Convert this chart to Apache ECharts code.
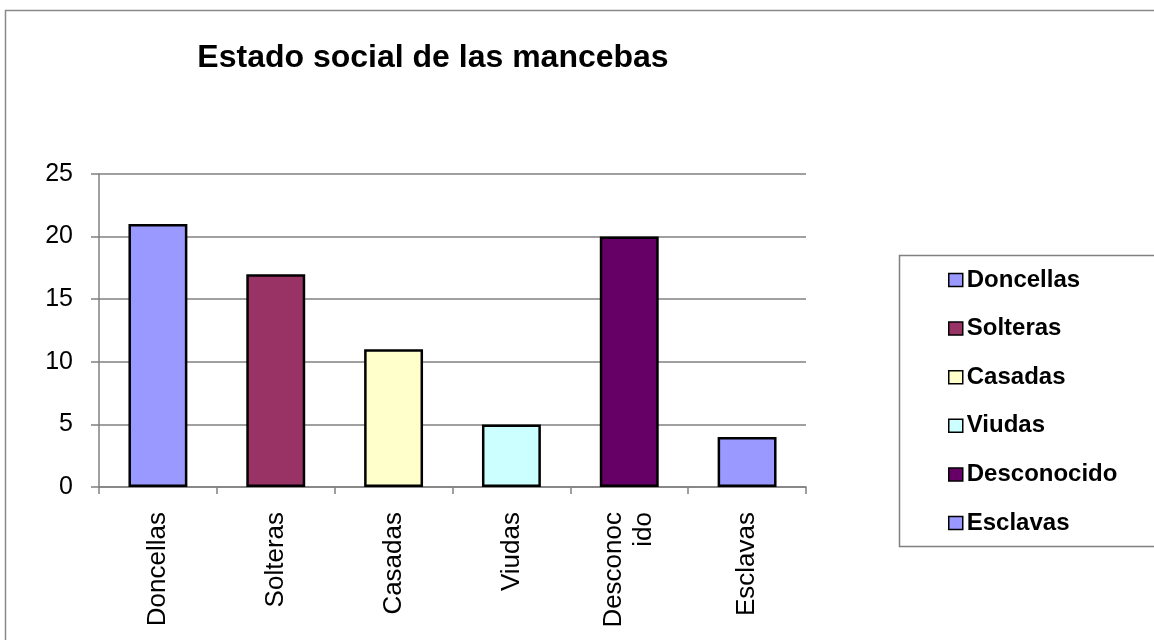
<!DOCTYPE html>
<html>
<head>
<meta charset="utf-8">
<script src="https://cdn.jsdelivr.net/npm/echarts@6/dist/echarts.min.js"></script>
<style>
  html, body { margin: 0; padding: 0; background: #fff; }
  #chart { width: 1154px; height: 640px; }
</style>
</head>
<body>
<div id="chart"></div>
<script>
const categories = ['Doncellas', 'Solteras', 'Casadas', 'Viudas', 'Desconocido', 'Esclavas'];
const tickLabels = ['Doncellas', 'Solteras', 'Casadas', 'Viudas', 'Desconoc\nido', 'Esclavas'];
const values = [21, 17, 11, 5, 20, 4];
const colors = ['#9999FF', '#993366', '#FFFFCC', '#CCFFFF', '#660066', '#9999FF'];
const yTicks = [0, 5, 10, 15, 20, 25];

const FONT = 'Arial, "Liberation Sans", sans-serif';

const series = categories.map((name, i) => ({
  name: name,
  type: 'bar',
  stack: 'all',
  barWidth: '50%',
  data: values.map((v, j) => (j === i ? v : '-')),
  itemStyle: { color: colors[i], borderColor: '#000', borderWidth: 2.5 },
  emphasis: { disabled: true }
}));

const chart = echarts.init(document.getElementById('chart'), null, { renderer: 'canvas' });
chart.setOption({
  animation: false,
  backgroundColor: '#fff',
  title: {
    text: 'Estado social de las mancebas',
    left: 428,
    top: 37,
    textAlign: 'center',
    textStyle: { fontFamily: FONT, fontSize: 32, fontWeight: 'bold', color: '#000' }
  },
  grid: { left: 99, right: 348, top: 174, bottom: 153, containLabel: false },
  xAxis: {
    type: 'category',
    data: categories,
    axisLine: { lineStyle: { color: '#808080', width: 1.5 } },
    axisTick: { show: true, length: 7, lineStyle: { color: '#808080', width: 1.5 } },
    axisLabel: {
      rotate: 90,
      margin: 25,
      fontFamily: FONT,
      fontSize: 26,
      lineHeight: 30,
      color: '#000',
      formatter: (v, idx) => tickLabels[idx]
    },
    splitLine: { show: false }
  },
  yAxis: {
    type: 'value',
    min: yTicks[0],
    max: yTicks[yTicks.length - 1],
    interval: 5,
    axisLine: { show: true, lineStyle: { color: '#808080', width: 1.5 } },
    axisTick: { show: true, length: 8, lineStyle: { color: '#808080', width: 1.5 } },
    axisLabel: { margin: 26, fontFamily: FONT, fontSize: 25, color: '#000' },
    splitLine: { show: true, lineStyle: { color: '#808080', width: 1.5 } }
  },
  legend: {
    orient: 'vertical',
    left: 948,
    top: 268,
    padding: 0,
    itemWidth: 14,
    itemHeight: 13,
    itemGap: 24.6,
    icon: 'rect',
    data: categories,
    selectedMode: false,
    itemStyle: { borderColor: '#000', borderWidth: 1.5 },
    textStyle: { fontFamily: FONT, fontSize: 24, fontWeight: 'bold', color: '#000', lineHeight: 24, padding: [0, 0, 0, -1] }
  },
  graphic: [
    {
      type: 'rect',
      shape: { x: 5.5, y: 10.5, width: 1300, height: 800 },
      style: { fill: 'none', stroke: '#8a8a8a', lineWidth: 1.5 },
      silent: true
    },
    {
      type: 'rect',
      shape: { x: 899.5, y: 255.5, width: 400, height: 291 },
      style: { fill: 'none', stroke: '#808080', lineWidth: 1.5 },
      silent: true
    }
  ],
  series: series
});
</script>
</body>
</html>
